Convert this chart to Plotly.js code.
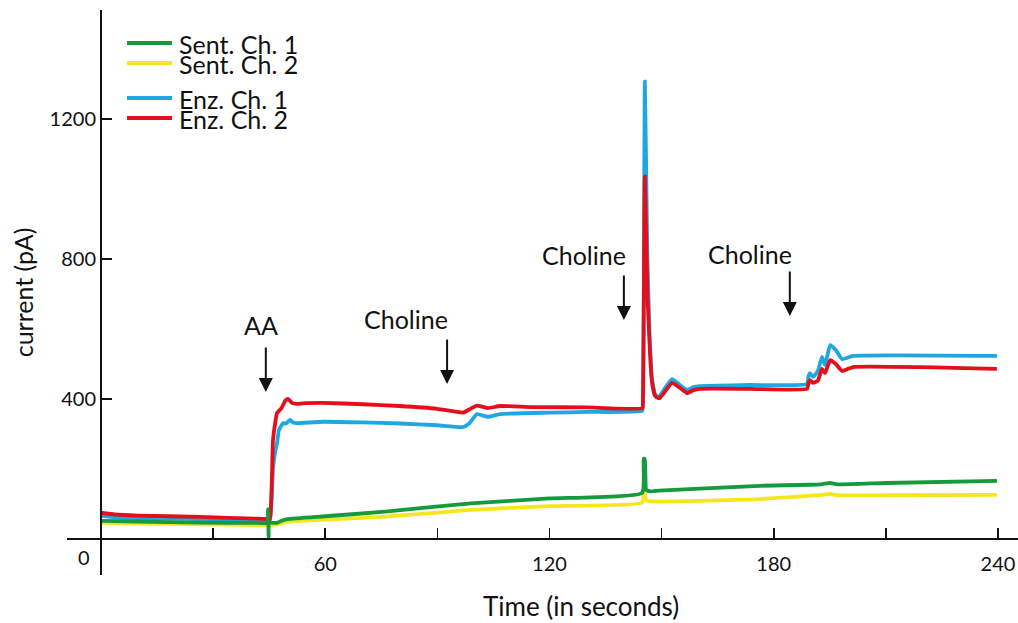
<!DOCTYPE html>
<html>
<head>
<meta charset="utf-8">
<script src="https://cdn.plot.ly/plotly-3.0.1.min.js"></script>
<style>
  html, body { margin: 0; padding: 0; background: #fff; }
  #chart { width: 1018px; height: 623px; }
</style>
</head>
<body>
<div id="chart"></div>
<script>
// ---- Data ----
const seriesNames = ["Sent. Ch. 1", "Sent. Ch. 2", "Enz. Ch. 1", "Enz. Ch. 2"];

const sent1Time    = [0, 10, 26.5, 42, 44.5, 44.7, 44.85, 45.0, 47, 48.5, 50, 60, 76, 98.9, 120, 144.8, 145.2, 145.5, 145.9, 147, 149.3, 176.3, 190, 193, 195, 197, 210, 239.7];
const sent1Current = [52, 50, 47, 46, 46, 85, 6, 46, 46, 53, 57, 65, 78, 102, 116, 132, 229, 229, 140, 136, 138, 152, 155, 157, 160, 156, 160, 166];

const sent2Time    = [0, 10, 26.5, 42, 44.5, 44.7, 45.0, 47, 50, 76, 98.9, 120, 144.8, 145.3, 146, 149.3, 176.3, 193, 195, 197, 210, 239.7];
const sent2Current = [46, 44, 42, 40, 40, 80, 40, 42, 49, 64, 83, 94, 104, 137, 110, 107, 114, 126, 129, 125, 125, 126];

const enz1Time    = [0, 3.7, 10, 26.5, 42, 44.7, 45.2, 45.6, 46.0, 46.6, 47.1, 47.6, 48.7, 49.5, 50.6, 51.5, 52.4, 59.4, 70, 80, 90, 96.9, 98.5, 100.6, 103.5, 106.8, 120, 130, 144.8, 145.0, 145.5, 145.8, 146.2, 146.8, 147.4, 148.2, 149.0, 149.5, 150.8, 152.8, 154.9, 156.8, 158.5, 160.3, 173.6, 188.9, 189.3, 189.7, 190.5, 191.8, 192.9, 193.7, 195.1, 196.6, 198.3, 201.2, 239.7];
const enz1Current = [66, 62, 60, 57, 54, 54, 54, 100, 200, 250, 274, 311, 331, 330, 340, 332, 331, 335, 333, 330, 325, 320, 330, 357, 349, 357, 361, 363, 366, 380, 1307, 1100, 800, 580, 460, 415, 406, 408, 430, 457, 440, 426, 434, 437, 440, 443, 465, 474, 463, 480, 520, 497, 554, 540, 514, 523, 523];

const enz2Time    = [0, 3.7, 10, 26.5, 42, 44.7, 45.2, 45.5, 45.8, 46.0, 46.6, 47.1, 48.3, 49.4, 50.0, 50.6, 51.1, 52.4, 55, 59.4, 70, 80, 90, 96.9, 98.5, 100.6, 103.5, 106.8, 115, 130, 144.8, 145.0, 145.5, 145.8, 146.2, 146.8, 147.4, 148.2, 149.0, 149.5, 150.8, 152.8, 154.9, 156.8, 158.5, 160.3, 173.6, 188.9, 189.3, 189.7, 190.5, 191.8, 192.9, 193.7, 195.1, 196.6, 198.3, 201.2, 239.7];
const enz2Current = [75, 70, 67, 63, 58, 57, 57, 100, 200, 280, 331, 360, 374, 397, 400, 395, 389, 386, 388, 389, 385, 380, 372, 361, 370, 381, 374, 380, 377, 376, 374, 400, 1035, 900, 700, 550, 450, 410, 403, 403, 420, 446, 432, 417, 425, 429, 429, 429, 445, 454, 446, 452, 486, 474, 511, 500, 480, 491, 486];

const xTickVals = [30, 60, 90, 120, 150, 180, 210, 240];
const xTickText = ["", "60", "", "120", "", "180", "", "240"];
const yTickVals = [400, 800, 1200];
const yTickText = ["400", "800", "1200"];
const xTitle = "Time (in seconds)";
const yTitle = "current (pA)";

// events: label, time of arrow, current at arrow tip, label position
const eventLabels  = ["AA", "Choline", "Choline", "Choline"];
const eventArrowX  = [44.1, 92.6, 139.9, 184.3];
const eventArrowY  = [420, 443, 626, 637];
const eventLabelX  = [42.8, 81.6, 129.2, 173.6];
const eventLabelY  = [611, 629, 811, 814];

const colors = { sent1: "#169a3e", sent2: "#f6e71c", enz1: "#1ea7e1", enz2: "#e3101c" };

// ---- Layout geometry ----
const W = 1018, H = 623;
const margin = { l: 67, r: 0, t: 10, b: 48 };
const xRange = [-9.097, 245.35];
const yRange = [-102.86, 1511.4];
const FONT = "Lato, 'Open Sans', sans-serif";

const lw = 3.8;
const traces = [
  { name: seriesNames[1], x: sent2Time, y: sent2Current, color: colors.sent2 },
  { name: seriesNames[2], x: enz1Time,  y: enz1Current,  color: colors.enz1 },
  { name: seriesNames[3], x: enz2Time,  y: enz2Current,  color: colors.enz2 },
  { name: seriesNames[0], x: sent1Time, y: sent1Current, color: colors.sent1 }
].map(s => ({
  type: "scatter", mode: "lines", name: s.name, x: s.x, y: s.y,
  line: { color: s.color, width: lw, shape: "spline", smoothing: 0.4 },
  showlegend: false, hoverinfo: "skip"
}));

// manual legend (tight spacing as in reference)
const plotW = W - margin.l - margin.r, plotH = H - margin.t - margin.b;
const px2paperX = p => (p - margin.l) / plotW;
const px2paperY = p => (H - margin.b - p) / plotH;
const legendItems = [
  { name: seriesNames[0], color: colors.sent1, py: 43 },
  { name: seriesNames[1], color: colors.sent2, py: 63 },
  { name: seriesNames[2], color: colors.enz1,  py: 98 },
  { name: seriesNames[3], color: colors.enz2,  py: 118 }
];
const shapes = legendItems.map(it => ({
  type: "line", xref: "paper", yref: "paper",
  x0: px2paperX(127), x1: px2paperX(172), y0: px2paperY(it.py), y1: px2paperY(it.py),
  line: { color: it.color, width: 4 }
}));
const annotations = legendItems.map(it => ({
  xref: "paper", yref: "paper", x: px2paperX(177), y: px2paperY(it.py + 1),
  xanchor: "left", yanchor: "middle", showarrow: false, text: it.name,
  font: { family: FONT, size: 25, color: "#111" }
}));

eventLabels.forEach((lab, i) => {
  annotations.push({
    xref: "x", yref: "y", x: eventLabelX[i], y: eventLabelY[i], text: lab,
    showarrow: false, xanchor: "center", yanchor: "middle",
    font: { family: FONT, size: 25, color: "#111" }
  });
  annotations.push({
    xref: "x", yref: "y", x: eventArrowX[i], y: eventArrowY[i], text: "",
    showarrow: true, ax: 0, ay: -46, arrowhead: 2, arrowsize: 1.4, arrowwidth: 2,
    arrowcolor: "#111"
  });
});
// origin label
annotations.push({
  xref: "x", yref: "y", x: -4.55, y: -51, text: "0", showarrow: false,
  xanchor: "center", yanchor: "middle", font: { family: FONT, size: 20, color: "#111" }
});
// x-axis title (offset to the right as in the reference)
annotations.push({
  xref: "paper", yref: "paper", x: px2paperX(581), y: px2paperY(606), text: xTitle,
  showarrow: false, xanchor: "center", yanchor: "middle",
  font: { family: FONT, size: 26, color: "#111" }
});

const layout = {
  width: W, height: H, margin: margin,
  paper_bgcolor: "#fff", plot_bgcolor: "#fff",
  font: { family: FONT, color: "#111" },
  showlegend: false,
  xaxis: {
    range: xRange, anchor: "free", position: (0 - yRange[0]) / (yRange[1] - yRange[0]),
    showline: true, linecolor: "#111", linewidth: 2,
    ticks: "inside", ticklen: 10, tickwidth: 1.6, tickcolor: "#111",
    tickvals: xTickVals, ticktext: xTickText,
    tickfont: { family: FONT, size: 20, color: "#111" },
    ticklabelstandoff: 7,
    showgrid: false, zeroline: false, automargin: false
  },
  yaxis: {
    range: yRange, anchor: "free", position: (0 - xRange[0]) / (xRange[1] - xRange[0]),
    showline: true, linecolor: "#111", linewidth: 2,
    ticks: "inside", ticklen: 10, tickwidth: 1.6, tickcolor: "#111",
    tickvals: yTickVals, ticktext: yTickText,
    tickfont: { family: FONT, size: 20, color: "#111" },
    showgrid: false, zeroline: false, automargin: false,
    title: { text: yTitle, font: { family: FONT, size: 25, color: "#111" }, standoff: 8 }
  },
  shapes: shapes,
  annotations: annotations
};

Plotly.newPlot("chart", traces, layout, { displayModeBar: false, staticPlot: true });
</script>
</body>
</html>
